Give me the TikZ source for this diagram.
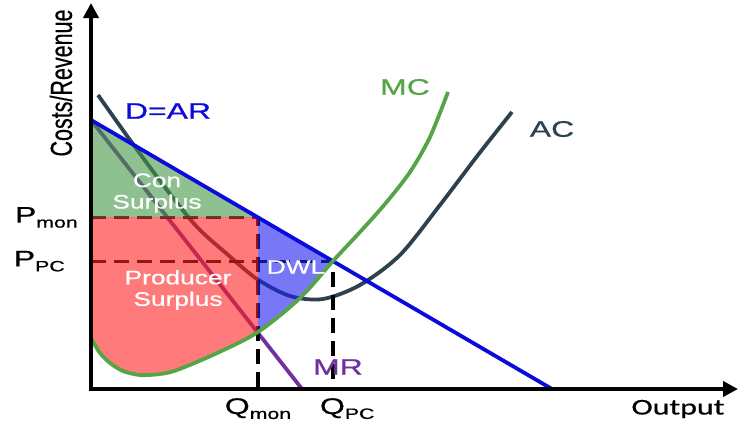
\documentclass[tikz,border=0pt]{standalone}
\usepackage{fontspec}
\setmainfont{Liberation Sans}
\newfontfamily\lblfont{Liberation Sans}[FakeBold=0.6]
\newfontfamily\outfont{Carlito}[FakeBold=0.6]
\usetikzlibrary{positioning,arrows.meta}

\definecolor{dblue}{RGB}{10,10,220}
\definecolor{mcgreen}{RGB}{85,165,70}
\definecolor{acslate}{RGB}{45,65,78}
\definecolor{mrpurple}{RGB}{112,48,160}
\definecolor{congreen}{RGB}{68,150,68}
\definecolor{prodred}{RGB}{255,33,33}
\definecolor{dwlblue}{RGB}{30,30,240}

% lowered subscript in text font
\newcommand{\lowtxt}[1]{\raisebox{-5pt}{\fontsize{15}{15}\selectfont #1}}
% marginal cost curve, used for the line and for the clip
\newcommand{\mccurve}{plot[smooth] coordinates {(92,340) (100,353) (110,363) (123,371) (140,375) (160,374) (177,370) (215,354) (258,332) (300,298) (333,261) (360,232) (385,204) (410,172) (430,137) (448,92)}}

\begin{document}
\begin{tikzpicture}[x=1pt, y=-1pt,
    lbl/.style={font=\lblfont\fontsize{22.5}{24}\selectfont, xscale=1.42, inner sep=0pt},
    inlbl/.style={lbl, font=\lblfont\fontsize{19.5}{21.5}\selectfont, xscale=0.95, text=white, align=center},
    curve/.style={line width=3.8pt},
    guide/.style={line width=3.2pt, dash pattern=on 15pt off 8pt},
    axis/.style={line width=4.5pt, -{Triangle[length=15pt,width=15pt]}},
    area/.style={fill opacity=0.6},
  ]
  \useasboundingbox (0,0) rectangle (739,423);

  % key points
  \coordinate (O) at (91,389);
  \coordinate (ytop) at (91,3);
  \coordinate (xend) at (738,389);
  \coordinate (dtop) at (91,120);
  \coordinate (dend) at (552,389);
  \coordinate (mrend) at (302,389);
  \coordinate (monD) at (258,217.4);
  \coordinate (pcD) at (333,261.2);
  \coordinate (Pmon) at (91,217.4);
  \coordinate (Ppc) at (91,261.2);
  \coordinate (Qmon) at (258,389);
  \coordinate (Qpc) at (333,389);
  \coordinate (Qpcend) at (333,386);

  % curves that sit under the shaded areas
  \draw[curve, acslate] plot[smooth] coordinates {(98,95) (130,140) (167,190) (197,227) (227,254) (257,279) (290,296) (323,299) (360,285) (400,255) (440,205) (478,155) (512,112)};
  \draw[curve, mrpurple] (dtop) -- (mrend);
  \draw[guide] (Pmon) -- (monD) -- (Qmon);
  \draw[guide] (Ppc) -- (pcD) -- (Qpcend);

  % surplus areas
  \fill[area, congreen] (dtop) -- (monD) -- (Pmon) -- cycle;
  \begin{scope}
    \clip \mccurve -- (448,0) -- (91,0) -- cycle;
    \fill[area, prodred] (Pmon) rectangle (Qmon);
    \fill[area, dwlblue] (monD) -- (pcD) -- (Qpc) -- (Qmon) -- cycle;
  \end{scope}

  % demand and marginal cost on top
  \draw[curve, dblue] (dtop) -- (dend);
  \draw[curve, mcgreen] \mccurve;

  % axes
  \draw[axis] (O) -- (ytop);
  \draw[axis] ([xshift=-2pt]O) -- (xend);

  % labels
  \node[lbl, rotate=90, font=\lblfont\fontsize{21.5}{23}\selectfont] (ylbl) at (61,83) {Costs/Revenue};
  \node[lbl, text=dblue] (dlbl) at (168,111) {D=AR};
  \node[lbl, text=mcgreen] (mclbl) at (405,87) {MC};
  \node[lbl, text=acslate] (aclbl) at (552,129) {AC};
  \node[lbl, text=mrpurple] (mrlbl) at (338,367) {MR};
  \node[inlbl] (conlbl) at (157,193) {Con\\Surplus};
  \node[inlbl] (prodlbl) at (178,290) {Producer\\Surplus};
  \node[inlbl] (dwllbl) at (296,267) {DWL};
  \node[lbl, left=13pt of Pmon] (pmonlbl) {P\lowtxt{mon}};
  \node[lbl, left=26pt of Ppc] (ppclbl) {P\lowtxt{PC}};
  \node[lbl, below=9pt of Qmon] (qmonlbl) {Q\lowtxt{mon}};
  \node[lbl, below=9pt of Qpc, xshift=10pt] (qpclbl) {Q\lowtxt{PC}};
  \node[lbl, font=\outfont\fontsize{22.5}{24}\selectfont] (outlbl) at (678,409) {Output};
\end{tikzpicture}
\end{document}
